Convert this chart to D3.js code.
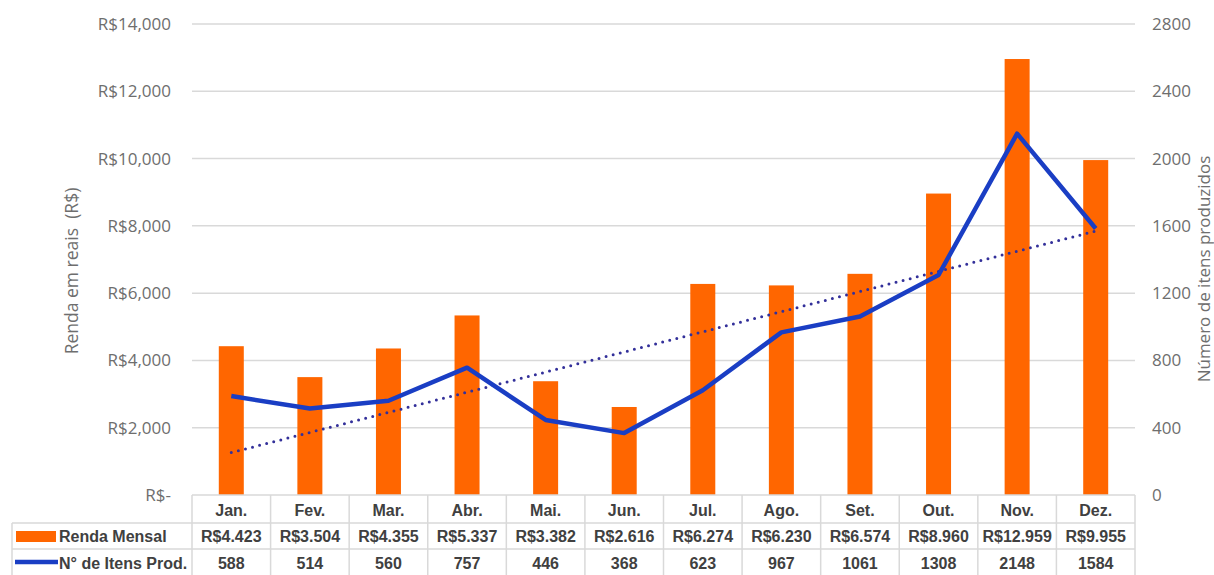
<!DOCTYPE html>
<html>
<head>
<meta charset="utf-8">
<script src="https://cdn.jsdelivr.net/npm/d3@7"></script>
<style>
  body { margin: 0; background: #fff; }
  svg { display: block; }
  .tick-l, .tick-r, .ax-title { font-family: "Open Sans", "Liberation Sans", sans-serif; fill: #6e6e6e; }
  .tbl { font-family: "Liberation Sans Narrow", "Liberation Sans", Arial, sans-serif; fill: #404040; font-weight: bold; }
</style>
</head>
<body>
<div id="chart"></div>
<script>
const months = ["Jan.", "Fev.", "Mar.", "Abr.", "Mai.", "Jun.", "Jul.", "Ago.", "Set.", "Out.", "Nov.", "Dez."];
const renda = [4423, 3504, 4355, 5337, 3382, 2616, 6274, 6230, 6574, 8960, 12959, 9955];
const itens = [588, 514, 560, 757, 446, 368, 623, 967, 1061, 1308, 2148, 1584];
const leftTicks = [0, 2000, 4000, 6000, 8000, 10000, 12000, 14000];
const rightTicks = [0, 400, 800, 1200, 1600, 2000, 2400, 2800];

const width = 1214, height = 575;
const plotL = 192, plotR = 1135, plotT = 24, plotB = 495;

const svg = d3.select("#chart").append("svg")
  .attr("width", width)
  .attr("height", height);

const x = d3.scaleBand().domain(months).range([plotL, plotR]);
const yL = d3.scaleLinear().domain([0, 14000]).range([plotB, plotT]);
const yR = d3.scaleLinear().domain([0, 2800]).range([plotB, plotT]);

// gridlines
svg.append("g")
  .selectAll("line")
  .data(leftTicks.filter(d => d > 0))
  .join("line")
  .attr("x1", plotL).attr("x2", plotR)
  .attr("y1", d => yL(d)).attr("y2", d => yL(d))
  .attr("stroke", "#d9d9d9").attr("stroke-width", 1.5);

// left ticks
const fmtL = d => d === 0 ? "R$-" : "R$" + d3.format(",")(d);
svg.append("g")
  .selectAll("text")
  .data(leftTicks)
  .join("text")
  .attr("class", "tick-l")
  .attr("x", 171)
  .attr("y", d => yL(d) + 6)
  .attr("text-anchor", "end")
  .attr("font-size", 17)
  .text(fmtL);

// right ticks
svg.append("g")
  .selectAll("text")
  .data(rightTicks)
  .join("text")
  .attr("class", "tick-r")
  .attr("x", 1152)
  .attr("y", d => yR(d) + 6)
  .attr("font-size", 17)
  .text(d => d);

// axis titles
svg.append("text")
  .attr("class", "ax-title")
  .attr("transform", `translate(78,271) rotate(-90)`)
  .attr("text-anchor", "middle")
  .attr("font-size", 17.5)
  .attr("xml:space", "preserve")
  .text("Renda em reais  (R$)");

svg.append("text")
  .attr("class", "ax-title")
  .attr("transform", `translate(1210,269) rotate(-90)`)
  .attr("text-anchor", "middle")
  .attr("font-size", 17)
  .text("Número de itens produzidos");

// bars
const barW = 25;
svg.append("g")
  .selectAll("rect")
  .data(renda)
  .join("rect")
  .attr("x", (d, i) => x(months[i]) + x.bandwidth() / 2 - barW / 2)
  .attr("y", d => yL(d))
  .attr("width", barW)
  .attr("height", d => plotB - yL(d))
  .attr("fill", "#ff6600");

// trend line (linear regression on item counts)
const n = itens.length;
const xs = d3.range(1, n + 1);
const mx = d3.mean(xs), my = d3.mean(itens);
const slope = d3.sum(xs, (v, i) => (v - mx) * (itens[i] - my)) / d3.sum(xs, v => (v - mx) ** 2);
const icpt = my - slope * mx;
const cx = i => x(months[i]) + x.bandwidth() / 2;

svg.append("line")
  .attr("x1", cx(0)).attr("y1", yR(icpt + slope * 1))
  .attr("x2", cx(n - 1)).attr("y2", yR(icpt + slope * n))
  .attr("stroke", "#33309a")
  .attr("stroke-width", 3)
  .attr("stroke-linecap", "round")
  .attr("stroke-dasharray", "0 7.3");

// items line
const line = d3.line()
  .x((d, i) => cx(i))
  .y(d => yR(d));

svg.append("path")
  .datum(itens)
  .attr("d", line)
  .attr("fill", "none")
  .attr("stroke", "#1a3ec4")
  .attr("stroke-width", 4.5)
  .attr("stroke-linejoin", "round");

// data table
const rowY = [plotB, 523, 549, 575];
const tbl = svg.append("g");
const grid = "#d9d9d9";

tbl.append("line").attr("x1", plotL).attr("x2", plotR).attr("y1", rowY[0]).attr("y2", rowY[0]).attr("stroke", grid).attr("stroke-width", 1.5);
[rowY[1], rowY[2]].forEach(y => {
  tbl.append("line").attr("x1", 12).attr("x2", plotR).attr("y1", y).attr("y2", y).attr("stroke", grid).attr("stroke-width", 1.5);
});
months.forEach(m => {
  tbl.append("line").attr("x1", x(m)).attr("x2", x(m)).attr("y1", rowY[0]).attr("y2", height).attr("stroke", grid).attr("stroke-width", 1.5);
});
tbl.append("line").attr("x1", plotR).attr("x2", plotR).attr("y1", rowY[0]).attr("y2", height).attr("stroke", grid).attr("stroke-width", 1.5);
tbl.append("line").attr("x1", 12).attr("x2", 12).attr("y1", rowY[1]).attr("y2", height).attr("stroke", grid).attr("stroke-width", 1.5);

tbl.selectAll(".mth")
  .data(months)
  .join("text")
  .attr("class", "tbl mth")
  .attr("x", d => x(d) + x.bandwidth() / 2)
  .attr("y", 516)
  .attr("text-anchor", "middle")
  .attr("font-size", 16)
  .text(d => d);

tbl.selectAll(".rnd")
  .data(renda)
  .join("text")
  .attr("class", "tbl rnd")
  .attr("x", (d, i) => cx(i))
  .attr("y", 542)
  .attr("text-anchor", "middle")
  .attr("font-size", 16)
  .text(d => "R$" + d3.format(",")(d).replace(/,/g, "."));

tbl.selectAll(".itn")
  .data(itens)
  .join("text")
  .attr("class", "tbl itn")
  .attr("x", (d, i) => cx(i))
  .attr("y", 569)
  .attr("text-anchor", "middle")
  .attr("font-size", 16)
  .text(d => d);

// legend keys in table
tbl.append("rect").attr("x", 16).attr("y", 531).attr("width", 40).attr("height", 11).attr("fill", "#ff6600");
tbl.append("text").attr("class", "tbl").attr("x", 59).attr("y", 542).attr("font-size", 16).text("Renda Mensal");
tbl.append("line").attr("x1", 15).attr("x2", 58).attr("y1", 562).attr("y2", 562).attr("stroke", "#1a3ec4").attr("stroke-width", 4.5);
tbl.append("text").attr("class", "tbl").attr("x", 59).attr("y", 569).attr("font-size", 16).text("N° de Itens Prod.");
</script>
</body>
</html>
